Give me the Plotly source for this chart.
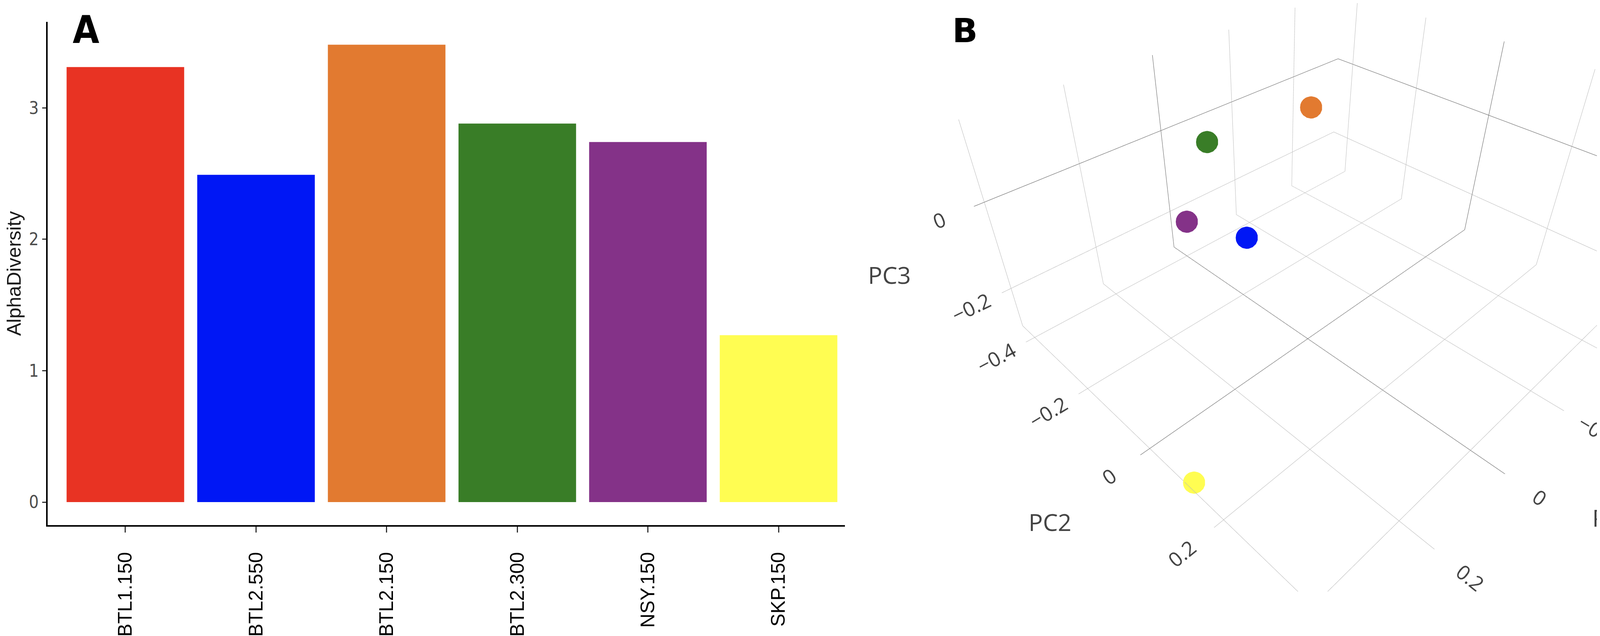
import plotly.graph_objects as go

# ---------------- data ----------------
samples = ["BTL1.150", "BTL2.550", "BTL2.150", "BTL2.300", "NSY.150", "SKP.150"]
alpha_diversity = [3.31, 2.49, 3.48, 2.88, 2.74, 1.27]
colors = ["#E83323", "#0017F5", "#E27A30", "#397D27", "#843288", "#FFFD52"]
y_ticks = [0, 1, 2, 3]

pc1 = [-0.558, 0.085, -0.056, 0.081, 0.175, 0.389]
pc2 = [0.414, -0.085, -0.067, -0.189, -0.141, 0.110]
pc3 = [-0.032, -0.050, 0.160, 0.100, 0.000, -0.300]

pc1_range = [-0.56, 0.42]
pc2_range = [-0.45, 0.47]
pc3_range = [-0.30, 0.16]
axis_titles = ["PC1", "PC2", "PC3"]

# ---------------- layout geometry ----------------
FW, FH = 4328, 1629
scene_left, scene_bottom = 2180, 1507
title_px = {"PC1": (4123, 1317), "PC2": (2680, 1328), "PC3": (2269, 695)}

fig = go.Figure()

# panel A: alpha diversity bars
fig.add_trace(go.Bar(
    x=samples, y=alpha_diversity,
    marker=dict(color=colors, line=dict(width=0)),
    width=0.9, showlegend=False, xaxis="x", yaxis="y"))

# panel B: 3D PCoA
fig.add_trace(go.Scatter3d(
    x=pc1, y=pc2, z=pc3, mode="markers", text=samples,
    marker=dict(size=33, color=colors, opacity=1, line=dict(width=0)),
    showlegend=False, scene="scene"))

narrow = "Liberation Sans Narrow, DejaVu Sans Condensed, Arial Narrow, sans-serif"
ax3 = dict(showbackground=False, gridcolor="#b8b8b8", gridwidth=2,
           zeroline=True, zerolinecolor="#5a5a5a", zerolinewidth=2,
           showline=False, ticks="outside", ticklen=55, tickcolor="rgba(0,0,0,0)",
           dtick=0.2, tick0=0, showspikes=False,
           tickfont=dict(family="Open Sans, sans-serif", size=25, color="#444444"),
           title=dict(text=""))

annos = [
    dict(text="<b>A</b>", x=212 / FW, y=1 - 68 / FH, xref="paper", yref="paper",
         xanchor="center", yanchor="middle", showarrow=False,
         font=dict(family=narrow, size=98, color="black")),
    dict(text="<b>B</b>", x=2462 / FW, y=1 - 70 / FH, xref="paper", yref="paper",
         xanchor="center", yanchor="middle", showarrow=False,
         font=dict(family="DejaVu Sans, Verdana, sans-serif", size=85, color="black")),
]
for name in axis_titles:
    px, py = title_px[name]
    annos.append(dict(text=name, x=px / FW, y=1 - py / FH, xref="paper", yref="paper",
                      xanchor="center", yanchor="middle", showarrow=False,
                      font=dict(family="Open Sans, sans-serif", size=61, color="#444444")))

fig.update_layout(
    width=FW, height=FH, paper_bgcolor="white", plot_bgcolor="white",
    margin=dict(l=0, r=0, t=0, b=0),
    xaxis=dict(domain=[114 / FW, 2155 / FW], type="category", range=[-0.595, 5.508],
               showline=True, linecolor="black", linewidth=4, ticks="outside",
               ticklen=15, tickwidth=3, tickcolor="#333333", tickangle=-90,
               tickfont=dict(family="Liberation Sans, Arial, sans-serif", size=50, color="black"),
               showgrid=False, zeroline=False, ticklabelstandoff=30),
    yaxis=dict(domain=[(FH - 1337) / FH, (FH - 48) / FH], range=[-0.175, 3.654],
               tickvals=y_ticks, showline=True, linecolor="black", linewidth=4,
               ticks="outside", ticklen=10, tickwidth=3, tickcolor="#333333",
               tickfont=dict(family=narrow, size=44, color="#4d4d4d"),
               showgrid=False, zeroline=False,
               title=dict(text="AlphaDiversity", standoff=18,
                          font=dict(family="Liberation Sans, Arial, sans-serif", size=50,
                                    color="#1a1a1a"))),
    scene=dict(
        domain=dict(x=[scene_left / FW, 1.0], y=[(FH - scene_bottom) / FH, 1.0]),
        xaxis=dict(ax3, range=pc1_range),
        yaxis=dict(ax3, range=pc2_range),
        zaxis=dict(ax3, range=pc3_range),
        aspectmode="manual", aspectratio=dict(x=1.0, y=0.9243, z=0.4769),
        camera=dict(eye=dict(x=0.8737, y=0.7155, z=0.7894),
                    center=dict(x=0.1373, y=-0.0430, z=-0.1059),
                    up=dict(x=0, y=0, z=1),
                    projection=dict(type="perspective")),
        bgcolor="rgba(0,0,0,0)"),
    annotations=annos,
)

fig.write_html("out.html")
